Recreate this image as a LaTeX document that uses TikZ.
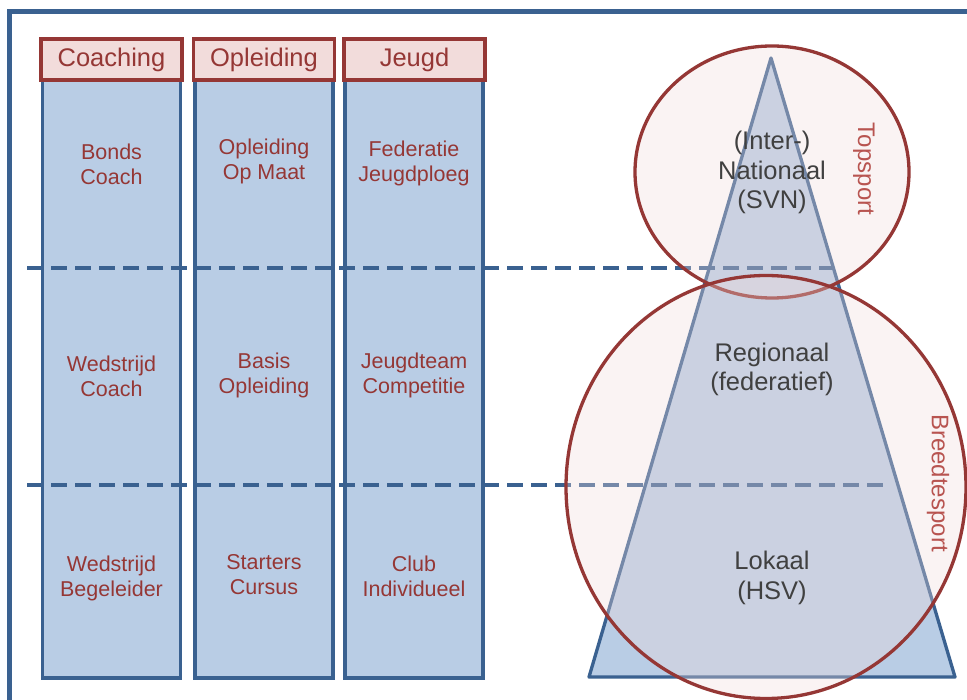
\documentclass[tikz,border=0pt]{standalone}
\usepackage{fontspec}
\setmainfont{Liberation Sans}
\definecolor{frameblue}{HTML}{3A6190}
\definecolor{colfill}{HTML}{B9CDE5}
\definecolor{hdrfill}{HTML}{F2DCDB}
\definecolor{hdrline}{HTML}{953735}
\definecolor{txtred}{HTML}{953735}
\definecolor{sidered}{HTML}{B85450}
\definecolor{txtgrey}{HTML}{404040}
\tikzset{
  hdrbox/.style={draw=hdrline, line width=3.5pt, fill=hdrfill, minimum width=141pt, minimum height=41pt, inner sep=0pt,
    text=txtred, font=\fontsize{25.5}{29}\selectfont},
  colbox/.style={draw=frameblue, line width=3.5pt, fill=colfill, minimum width=138pt, minimum height=598pt, inner sep=0pt},
  celltxt/.style={text=txtred, align=center, font=\fontsize{21.5}{25}\selectfont, inner sep=0pt},
  levtxt/.style={text=txtgrey, align=center, font=\fontsize{25.5}{29.5}\selectfont, inner sep=0pt},
  sidetxt/.style={text=sidered, rotate=-90, font=\fontsize{24}{28}\selectfont, inner sep=0pt},
  levelline/.style={draw=frameblue, line width=3.2pt, dash pattern=on 16pt off 8pt},
  zone/.style={draw=hdrline, line width=3.3pt, fill=hdrfill, fill opacity=0.32, draw opacity=1}
}
\begin{document}
\begin{tikzpicture}[x=1pt,y=-1pt]
\useasboundingbox (0,0) rectangle (967,700);
\clip (0,0) rectangle (967,700);
\fill[white] (0,0) rectangle (967,700);
% outer frame
\draw[frameblue, line width=5pt] (1100,12) -- (9.5,12) -- (9.5,800);
% columns
\node[colbox] (c1) at (111.5,379) {};
\node[colbox] (c2) at (264,379) {};
\node[colbox] (c3) at (414,379) {};
\node[hdrbox] (h1) at (111.5,59.5) {Coaching};
\node[hdrbox] (h2) at (264,59.5) {Opleiding};
\node[hdrbox] (h3) at (414.5,59.5) {Jeugd};
% cell texts
\node[celltxt] (t11) at (111.5,164) {Bonds\\Coach};
\node[celltxt] (t12) at (264,161) {Opleiding\\Op Maat};
\node[celltxt] (t13) at (414,163) {Federatie\\Jeugdploeg};
\node[celltxt] (t21) at (111.5,376) {Wedstrijd\\Coach};
\node[celltxt] (t22) at (264,375) {Basis\\Opleiding};
\node[celltxt] (t23) at (414,375) {Jeugdteam\\Competitie};
\node[celltxt] (t31) at (111.5,578) {Wedstrijd\\Begeleider};
\node[celltxt] (t32) at (264,575) {Starters\\Cursus};
\node[celltxt] (t33) at (414,576) {Club\\Individueel};
% pyramid
\coordinate (apex) at (771,58);
\coordinate (bl) at (589,677);
\coordinate (br) at (955,677);
\filldraw[draw=frameblue, fill=colfill, line width=3.3pt, line join=round] (apex) -- (bl) -- (br) -- cycle;
% level lines
\coordinate (l1a) at (27,268);
\coordinate (l1b) at (834,268);
\coordinate (l2a) at (27,485);
\coordinate (l2b) at (887,485);
\draw[levelline] (l1a) -- (l1b);
\draw[levelline] (l2a) -- (l2b);
% zones
\draw[zone] (772,172) ellipse [x radius=137, y radius=126];
\draw[zone] (766,487) ellipse [x radius=200, y radius=211.5];
% level texts
\node[levtxt] (n1) at (772,172.5) {(Inter-)\\Nationaal\\(SVN)};
\node[levtxt] (n2) at (772,369.5) {Regionaal\\(federatief)};
\node[levtxt] (n3) at (772,578) {Lokaal\\(HSV)};
\node[sidetxt] (s1) at (864,169) {Topsport};
\node[sidetxt] (s2) at (938,483) {Breedtesport};
\end{tikzpicture}
\end{document}
